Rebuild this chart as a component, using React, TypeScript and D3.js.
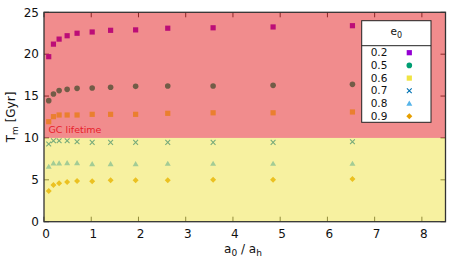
import React from 'react';
import * as d3 from 'd3';

// a0/ah sample positions shared by every series
const ratios = [0.1, 0.2, 0.32, 0.49, 0.7, 1.02, 1.41, 1.94, 2.62, 3.58, 4.85, 6.53];

const e02 = [19.7, 21.2, 21.8, 22.2, 22.5, 22.65, 22.85, 22.9, 23.1, 23.15, 23.25, 23.4];
const e05 = [14.45, 15.25, 15.65, 15.8, 15.92, 15.96, 16.05, 16.16, 16.2, 16.2, 16.28, 16.4];
const e06 = [11.94, 12.54, 12.74, 12.74, 12.74, 12.82, 12.82, 12.82, 12.94, 13.0, 13.0, 13.1];
const e07 = [9.28, 9.67, 9.67, 9.67, 9.55, 9.47, 9.47, 9.47, 9.47, 9.47, 9.47, 9.55];
const e08 = [6.57, 6.97, 6.97, 7.0, 7.0, 6.89, 6.89, 6.89, 6.93, 6.93, 6.93, 6.93];
const e09 = [3.67, 4.38, 4.58, 4.74, 4.86, 4.82, 4.94, 4.94, 4.94, 5.02, 5.02, 5.1];

const eccLabels = ['0.2', '0.5', '0.6', '0.7', '0.8', '0.9'];
const xTicks = [0, 1, 2, 3, 4, 5, 6, 7, 8];
const yTicks = [0, 5, 10, 15, 20, 25];
const gcLifetime = 10;

const series = [
  { label: eccLabels[0], values: e02, color: '#9400d3', shape: 'square' },
  { label: eccLabels[1], values: e05, color: '#009e73', shape: 'circle' },
  { label: eccLabels[2], values: e06, color: '#f0e442', shape: 'square' },
  { label: eccLabels[3], values: e07, color: '#0072b2', shape: 'cross' },
  { label: eccLabels[4], values: e08, color: '#56b4e9', shape: 'triangle' },
  { label: eccLabels[5], values: e09, color: '#e69f00', shape: 'diamond' },
];

const Marker = ({ x, y, shape, color }: { x: number; y: number; shape: string; color: string }) => {
  if (shape === 'square') return <rect x={x - 2.6} y={y - 2.6} width={5.2} height={5.2} fill={color} />;
  if (shape === 'circle') return <circle cx={x} cy={y} r={2.8} fill={color} />;
  if (shape === 'cross')
    return (
      <path d={`M${x - 2.4},${y - 2.4}L${x + 2.4},${y + 2.4}M${x - 2.4},${y + 2.4}L${x + 2.4},${y - 2.4}`}
        stroke={color} strokeWidth={1.1} fill="none" />
    );
  if (shape === 'triangle')
    return <path d={`M${x},${y - 3}L${x + 3},${y + 2.2}L${x - 3},${y + 2.2}Z`} fill={color} />;
  return <path d={`M${x},${y - 3}L${x + 3},${y}L${x},${y + 3}L${x - 3},${y}Z`} fill={color} />;
};

export default function App() {
  const width = 463;
  const height = 273;
  const margin = { left: 44, right: 17.5, top: 12.3, bottom: 51.3 };
  const x0 = margin.left;
  const x1 = width - margin.right;
  const y0 = height - margin.bottom;
  const y1 = margin.top;

  const x = d3.scaleLinear().domain([0, 8.5]).range([x0, x1]);
  const y = d3.scaleLinear().domain([0, 25]).range([y0, y1]);

  const font = 'DejaVu Sans, sans-serif';
  const tickLen = 5;

  // legend box
  const lg = { left: 361.7, right: 431, top: 20.7, header: 45.7, bottom: 122.3 };
  const rowStep = 12.7;

  return (
    <svg width={width} height={height} style={{ position: 'absolute', left: 0, top: 0, display: 'block' }}>
      <rect width={width} height={height} fill="#fff" />

      {/* ticks, drawn under the tinted bands */}
      <g stroke="#333" strokeWidth={1}>
        {xTicks.map(t => (
          <g key={'xt' + t}>
            <line x1={x(t)} x2={x(t)} y1={y0} y2={y0 - tickLen} />
            <line x1={x(t)} x2={x(t)} y1={y1} y2={y1 + tickLen} />
          </g>
        ))}
        {yTicks.map(t => (
          <g key={'yt' + t}>
            <line x1={x0} x2={x0 + tickLen} y1={y(t)} y2={y(t)} />
            <line x1={x1} x2={x1 - tickLen} y1={y(t)} y2={y(t)} />
          </g>
        ))}
      </g>

      {/* points */}
      {series.map(s => (
        <g key={s.label}>
          {s.values.map((v, i) => (
            <Marker key={i} x={x(ratios[i])} y={y(v)} shape={s.shape} color={s.color} />
          ))}
        </g>
      ))}

      {/* background bands */}
      <rect x={x0} y={y(25)} width={x1 - x0} height={y(gcLifetime) - y(25)} fill="#e41a1c" fillOpacity={0.5} />
      <rect x={x0} y={y(gcLifetime)} width={x1 - x0} height={y(0) - y(gcLifetime)} fill="#f0e442" fillOpacity={0.5} />

      <text x={48.5} y={y(gcLifetime) - 5} fontFamily={font} fontSize={9.5} fill="#e8202a">GC lifetime</text>

      {/* frame */}
      <rect x={x0} y={y1} width={x1 - x0} height={y0 - y1} fill="none" stroke="#333" strokeWidth={1.3} />

      {/* tick labels */}
      <g fontFamily={font} fontSize={12} fill="#111">
        {yTicks.map(t => (
          <text key={'yl' + t} x={x0 - 5} y={y(t)} dy="0.35em" textAnchor="end">{t}</text>
        ))}
        {xTicks.map(t => (
          <text key={'xl' + t} x={x(t) + 2} y={y0 + 12.5} dy="0.35em" textAnchor="middle">{t}</text>
        ))}
      </g>

      {/* axis titles */}
      <text x={243} y={253} fontFamily={font} fontSize={12} fill="#111" textAnchor="middle">
        a<tspan fontSize={9} dy={3}>0</tspan><tspan dy={-3}> / a</tspan><tspan fontSize={9} dy={3}>h</tspan>
      </text>
      <text transform={`translate(15,${(y0 + y1) / 2}) rotate(-90)`} fontFamily={font} fontSize={12} fill="#111" textAnchor="middle">
        T<tspan fontSize={9} dy={3}>m</tspan><tspan dy={-3}> [Gyr]</tspan>
      </text>

      {/* legend */}
      <g>
        <rect x={lg.left} y={lg.top} width={lg.right - lg.left} height={lg.bottom - lg.top} fill="#fff" stroke="#222" strokeWidth={1} />
        <line x1={lg.left} x2={lg.right} y1={lg.header} y2={lg.header} stroke="#222" strokeWidth={1} />
        <text x={(lg.left + lg.right) / 2} y={35} fontFamily={font} fontSize={10.5} fill="#111" textAnchor="middle">
          e<tspan fontSize={8} dy={2.5}>0</tspan>
        </text>
        {series.map((s, i) => {
          const ry = 52.7 + i * rowStep;
          return (
            <g key={'lg' + s.label}>
              <text x={370.7} y={ry} dy="0.35em" fontFamily={font} fontSize={10.5} fill="#111">{s.label}</text>
              <Marker x={409.3} y={ry} shape={s.shape} color={s.color} />
            </g>
          );
        })}
      </g>
    </svg>
  );
}
